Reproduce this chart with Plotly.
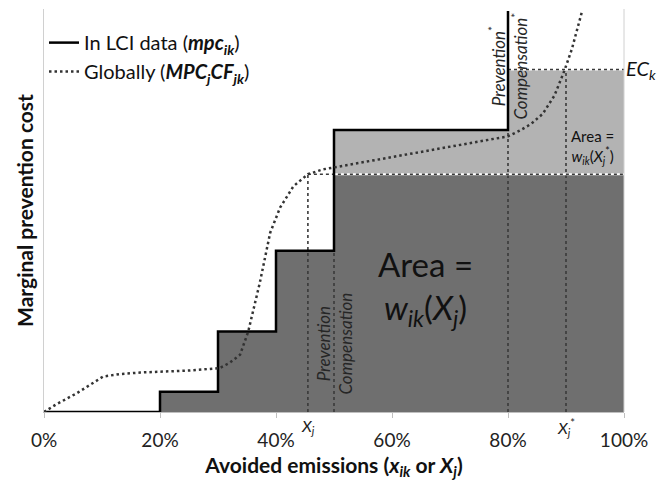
import numpy as np
import plotly.graph_objects as go

# ---------------- data ----------------
# LCI step function: start of each step (% avoided emissions) and its cost level
step_start = [0, 20, 30, 40, 50, 80]
step_cost = [0, 5, 20, 40, 70, 99.5]

# Global marginal prevention cost curve (MPC_j CF_jk)
curve_x = [0, 2, 5.7, 8, 10.2, 13, 16.6, 25.2, 30.3, 32, 33.8, 35.2, 37.2, 39, 40.7, 43,
           45.5, 48.1, 50, 54.5, 60, 70, 80, 82, 84, 86, 88, 89.7, 91, 92.8]
curve_y = [0, 1.8, 4.7, 6.8, 8.8, 9.4, 9.8, 10.3, 10.9, 12.2, 14.2, 19.9, 32, 44.5, 50.7, 56,
           59, 60.2, 60.7, 61.7, 63.2, 65.8, 68.4, 69.8, 71.5, 74, 78.5, 84.6, 90, 99.6]

Xj = 45.5          # X_j
Xj_star = 90       # X_j*
price_Xj = 59      # cost level at X_j
EC_k = 85          # EC_k level
x_end = 100

x_ticks = [0, 20, 40, 60, 80, 100]
x_tick_text = ["0%", "20%", "40%", "60%", "80%", "100%"]

# ---------------- derived geometry ----------------
edges = step_start[1:] + [x_end]


def step_region(top_fn, bottom, keep):
    xs, ys = [], []
    for a, b, c in zip(step_start, edges, step_cost):
        if not keep(c):
            continue
        t = top_fn(c)
        xs += [a, b]
        ys += [t, t]
    return [xs[0]] + xs + [xs[-1]], [bottom] + ys + [bottom]


dark_x, dark_y = step_region(lambda c: min(c, price_Xj), 0, lambda c: c > 0)
lx, ly = step_region(lambda c: min(c, EC_k), price_Xj, lambda c: c > price_Xj)

line_x, line_y = [step_start[0]], [step_cost[0]]
for i in range(1, len(step_start)):
    line_x += [step_start[i], step_start[i]]
    line_y += [step_cost[i - 1], step_cost[i]]

FONT = "Lato"
fig = go.Figure()

fig.add_trace(go.Scatter(x=dark_x, y=dark_y, fill="toself", fillcolor="#6f6f6f",
                         line=dict(width=0), mode="lines", showlegend=False, hoverinfo="skip"))
fig.add_trace(go.Scatter(x=lx, y=ly, fill="toself", fillcolor="#b3b3b3",
                         line=dict(width=0), mode="lines", showlegend=False, hoverinfo="skip"))

DOT = "3px,3px"
# vertical guide lines
vlines = [(Xj, price_Xj), (step_start[4], price_Xj), (step_start[5], step_cost[4]), (Xj_star, EC_k)]
for xv, top in vlines:
    fig.add_trace(go.Scatter(x=[xv, xv], y=[0, top], mode="lines",
                             line=dict(color="#3a3a3a", width=1.6, dash=DOT),
                             showlegend=False, hoverinfo="skip"))
# horizontal guide lines
for x0, yv in [(Xj, price_Xj), (step_start[5], EC_k)]:
    fig.add_trace(go.Scatter(x=[x0, x_end], y=[yv, yv], mode="lines",
                             line=dict(color="white", width=2),
                             showlegend=False, hoverinfo="skip"))
    fig.add_trace(go.Scatter(x=[x0, x_end], y=[yv, yv], mode="lines",
                             line=dict(color="#3a3a3a", width=1.6, dash=DOT),
                             showlegend=False, hoverinfo="skip"))

fig.add_trace(go.Scatter(x=line_x, y=line_y, mode="lines",
                         line=dict(color="black", width=2.5),
                         name="In LCI data (<b><i>mpc</i><sub><i>ik</i></sub></b>)"))
fig.add_trace(go.Scatter(x=curve_x, y=curve_y, mode="lines",
                         line=dict(color="#333333", width=2.5, dash="2.5px,3px"),
                         name="Globally (<b><i>MPC</i><sub><i>j</i></sub><i>CF</i><sub><i>jk</i></sub></b>)"))

ann = []
ann.append(dict(x=65.7, y=30.8, xref="x", yref="y",
                text="Area =<br><i>w</i><sub><i>ik</i></sub>(<i>X</i><sub><i>j</i></sub>)",
                showarrow=False, font=dict(size=33, color="#111111", family=FONT)))
ann.append(dict(x=94.5, y=65.8, xref="x", yref="y",
                text="Area =<br><i>w</i><sub><i>ik</i></sub>(<i>X</i><sub><i>j</i></sub><sup>*</sup>)",
                showarrow=False, font=dict(size=15, color="#111111", family=FONT)))
ann.append(dict(x=x_end, y=EC_k, xref="x", yref="y", xanchor="left",
                text="<i>EC</i><sub><i>k</i></sub>", showarrow=False, xshift=0,
                font=dict(size=20, color="#111111", family=FONT)))
ann.append(dict(x=step_start[4], y=17, xref="x", yref="y", textangle=-90,
                text="<i>Prevention</i><br><i>Compensation</i>", showarrow=False,
                font=dict(size=17, color="#262626", family=FONT)))
ann.append(dict(x=step_start[5], y=1, xref="x", yref="paper", yanchor="top", textangle=-90,
                text="<i>Prevention</i><sup>*</sup><br><i>Compensation</i><sup>*</sup>",
                showarrow=False, yshift=-2,
                font=dict(size=17, color="#262626", family=FONT)))
ann.append(dict(x=Xj, y=0, xref="x", yref="paper", yanchor="top", yshift=-2,
                text="<i>X</i><sub><i>j</i></sub>", showarrow=False,
                font=dict(size=16, color="#222222", family=FONT)))
ann.append(dict(x=Xj_star, y=0, xref="x", yref="paper", yanchor="top", yshift=-2,
                text="<i>X</i><sub><i>j</i></sub><sup>*</sup>", showarrow=False,
                font=dict(size=16, color="#222222", family=FONT)))

fig.update_layout(
    width=661, height=488,
    margin=dict(l=44, r=37, t=9, b=76),
    paper_bgcolor="white", plot_bgcolor="white",
    font=dict(family=FONT, size=19, color="#222222"),
    showlegend=True,
    legend=dict(x=0, y=0.965, xanchor="left", yanchor="top", bgcolor="rgba(0,0,0,0)",
                font=dict(size=20, family=FONT, color="#111111"), itemwidth=30,
                tracegroupgap=0),
    annotations=ann,
    shapes=[dict(type="line", xref="x domain", yref="y domain", x0=1, x1=1, y0=0, y1=1,
                 line=dict(color="#d0d0d0", width=1))],
)
fig.update_xaxes(range=[0, x_end], tickvals=x_ticks, ticktext=x_tick_text,
                 showline=True, linecolor="#bfbfbf", linewidth=1,
                 ticks="outside", ticklen=5, tickcolor="#bfbfbf",
                 showgrid=False, zeroline=False, ticklabelstandoff=6,
                 tickfont=dict(size=19, color="#222222", family=FONT),
                 title=dict(text="<b>Avoided emissions (<i>x</i><sub><i>ik</i></sub> or <i>X</i><sub><i>j</i></sub>)</b>",
                            font=dict(size=21, color="#111111", family=FONT), standoff=8))
fig.update_yaxes(range=[0, 100], showticklabels=False, ticks="", showgrid=False, zeroline=False,
                 showline=True, linecolor="#d0d0d0", linewidth=1,
                 title=dict(text="<b>Marginal prevention cost</b>",
                            font=dict(size=21, color="#111111", family=FONT), standoff=3))

fig.write_html("out.html")
